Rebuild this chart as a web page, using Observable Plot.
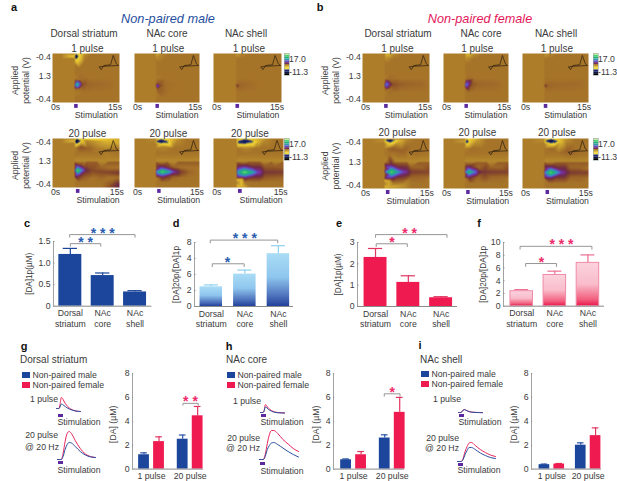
<!DOCTYPE html>
<html><head><meta charset="utf-8">
<script src="https://cdn.jsdelivr.net/npm/d3@7"></script>
<script src="https://cdn.jsdelivr.net/npm/@observablehq/plot@0.6"></script>
<style>
html,body{margin:0;padding:0;background:#fff}
#page{position:relative;width:617px;height:481px;overflow:hidden;font-family:"Liberation Sans",Arial,sans-serif;color:#3a3a3a}
#page svg{position:absolute;overflow:visible;background:transparent}
.t{position:absolute;white-space:nowrap;line-height:1;transform:translate(-50%,-50%)}
.l{transform:translate(0,-50%)}
.r{transform:translate(-100%,-50%)}
</style></head><body><div id="page"></div>
<script>
// ---------- data ----------
const regions = ["Dorsal\nstriatum","NAc\ncore","NAc\nshell"];
const da1pMale = [1.2,0.71,0.33], da1pMaleErr = [0.14,0.06,0.03];
const ratioMale = [2.46,4.05,6.6], ratioMaleErr = [0.24,0.5,1.0];
const da1pFemale = [2.3,1.13,0.41], da1pFemaleErr = [0.42,0.31,0.05];
const ratioFemale = [2.35,4.9,6.8], ratioFemaleErr = [0.25,0.6,1.25];
const gMeans = [1.2,2.3,2.5,4.46], gErrs = [0.16,0.4,0.35,0.78];
const hMeans = [0.78,1.2,2.6,4.75], hErrs = [0.07,0.27,0.27,1.25];
const iMeans = [0.37,0.42,2.0,2.8], iErrs = [0.05,0.05,0.2,0.65];
const groupPositions = [0,1,2.58,3.58];
const pulseLabels = ["1 pulse","20 pulse"];

const traceTime1 = [0,1.5,2.2,3,3.8,4.6,5.6,7,9,11,13,15];
const g1Male =   [0,0,1.5,4.5,4,3,1.8,.3,-1.2,-2.2,-2.8,-3];
const g1Female = [0,0,4,11,10,7.5,4.8,2,-.6,-2,-2.7,-3];
const h1Male =   [0,0,1.2,5.5,5.2,3.5,2.4,1.2,.2,-.3,-.5,-.6];
const h1Female = [0,0,1.5,7.8,7,5,3.4,1.8,.5,0,-.2,-.4];
const i1Male =   [0,0,.8,2.4,2.8,2.3,1.5,.7,.2,0,-.1,-.2];
const i1Female = [0,0,.9,2.6,3,2.4,1.6,.8,.3,.1,0,-.1];
const traceTime20 = [0,1.5,2.2,3,3.8,4.6,5.5,7,9,11,13,15];
const g20Male =   [0,0,3,10,15,17,16.5,13,8,4.5,2.6,2];
const g20Female = [0,0,6,18,26,28,26,19,11,5.5,3,2];
const h20Male =   [0,0,3,10,14,16.5,17,15,11.5,8,5,2.5];
const h20Female = [0,0,5,16,25,29,29,26,20,15.5,11,8];
const i20Male =   [0,0,2,7,11,14,14,12,8.5,6,4,3];
const i20Female = [0,0,3,10,15,18.5,19,16,12,9,6.5,5];

const colorLevels = [-14,-11.3,-8,-7,-5,-3,-1,0,2,3.5,5,7,9,11,13,15,17];
const colorRange  = ["#000000","#10154e","#202a88","#6a6a50","#f3dd36","#e2bc2e","#be9430","#ad7d2a","#8c4f27","#6d2a45","#7a2ea0","#5f50c8","#3a8fc0","#25a890","#1fbb60","#7fe08a","#d8f0a0"];
const colorbarSteps = [20,14,12,10,7,4,0,-3,-5,-9,-11,-14];
const colorbarLabels = ["17.0","-11.3"];

// background lattice of the colour plots (value of the quiet, brown field)
const latticeT = [0,2,4.9,5.05,6,7,8,9,10,11,12,13,14,15];
const latticeY = [0,.1,.2,.3,.4,.5,.6,.7,.8,.9,1];
const quietLeft = 0, quietRight = .4;
const band = [[5.05,.46,-.6],[5.05,.48,1.4],[7.5,.46,-.5],[7.5,.48,1.4],[10,.46,-.5],[10,.48,1.4],[12.5,.46,-.5],[12.5,.48,1.4],[15,.46,-.5],[15,.48,1.4]];
const waveT = [10.5,10.9,11.5,13,13.6,14.3,14.8,11.5,10.5];
const waveY = [.275,.33,.245,.23,.04,.21,.245,.26,.275];

const heatA1 = [[5.3,.06,-16],[5.3,0,-6],[5.3,.13,-5],[4.95,.06,-4],[5.9,.06,-5],[7.2,.02,-.5],
 [5.05,.63,10],[5.5,.63,13],[6.1,.63,8],[5.5,.57,8],[5.5,.69,8],[5.05,.54,.8],[5.05,.73,.8],[6.8,.63,2],[6.3,.55,.8],[6.3,.71,.8],[8,.63,1],[10,.63,.8],[12,.63,.7]];
const heatA2 = [[5.1,.02,-2.5],[6,0,-.6],[5.1,.08,-.6],[5.4,.66,7],[5.05,.66,5.5],[6,.66,2],[5.4,.6,1.5],[5.4,.73,1.5],[5.05,.58,.6],[5.05,.75,.6],[7,.66,.7],[9,.63,.5]];
const heatA3 = [[5.1,.02,-1.2],[6,0,-.3],[5.3,.66,3],[5.05,.66,2.5],[6,.66,1],[5.3,.6,.7],[5.3,.72,.7],[8,.65,.7]];
const heatA4 = [...band,[5.4,.05,-16],[5.4,0,-6],[5.4,.12,-5],[4.95,.05,-3],[6.6,.05,-4],[7.5,.03,-.6],[6.3,.17,2],[8,.2,1.2],[10,.2,0],[12,.05,-2.6],[15,.1,-2],[10,.05,-1.6],[13.5,.05,-2.6],[12,.25,.1],
 [5.7,.65,15],[5.1,.65,10],[6.6,.65,9],[5.6,.59,9],[5.6,.72,9],[5.05,.54,4],[5.05,.78,4],[7.5,.65,3.5],[6.2,.55,3],[6.2,.76,3],[7,.54,1],[7,.82,1],[9,.66,2.2],[11,.68,2.4],[13,.69,2.6],[15,.7,3],[11,.58,.8],[11,.82,.7],[14.6,.93,3.5],[13,.93,1.5]];
const heatA5 = [...band,[6.2,.06,-12],[5.2,.06,-9],[7.2,.06,-8.5],[6.2,.0,-5],[6.2,.11,-4.5],[4.95,.02,-.6],[8.5,.05,-3],[10,.03,-.6],[6.5,.17,-.4],
 [6.4,.68,15],[5.1,.68,10],[8,.68,11],[6.4,.63,9.5],[6.4,.73,9.5],[5.05,.58,3],[5.05,.77,3],[9.4,.68,5],[6.5,.57,3.5],[6.5,.79,3.5],[8,.6,3],[8,.76,3],[10.8,.68,2.6],[9,.57,.8],[9,.8,.8],[13,.68,.9]];
const heatA6 = [...band,[6.7,.06,-12],[5.4,.07,-9],[8,.05,-8.5],[6.7,.0,-5],[6.7,.13,-4.5],[5.05,.05,-3],[9.5,.05,-3],[11,.03,-.6],[7,.2,-.3],
 [6.6,.69,15.5],[5.1,.69,10],[8.5,.69,11],[6.6,.63,10],[6.6,.75,10],[5.05,.58,3.5],[5.05,.8,3.5],[9.8,.69,5.5],[6.6,.56,4],[6.6,.81,4],[8.5,.59,3.5],[8.5,.78,3.5],[11,.69,3],[13,.69,2.9],[15,.69,2.8],[11,.55,1.2],[11,.82,1.2],[13,.56,1.2],[13,.81,1.1],[15,.58,1.2],[15,.8,1],
 [5.1,.84,-3.4],[6,.84,-3.2],[5.1,.98,-3.4],[6,.98,-3.2],[6.7,.9,.2]];
const heatB1 = [[5.3,.02,-3],[7,0,-.6],[5.2,.08,-1],[5.4,.63,9],[5.05,.63,8],[6,.63,5],[5.4,.56,5],[5.4,.7,5],[5.05,.53,.8],[5.05,.74,.8],[6.9,.63,2],[6.2,.54,.8],[6.2,.72,.8],[9,.63,1.2],[11,.62,1],[13,.62,.9]];
const heatB2 = [[5.3,.02,-3],[7,0,-.8],[5.2,.08,-1],[5.3,.63,9],[5.05,.63,8],[5.9,.63,5],[5.3,.57,5],[5.3,.69,5],[5.05,.54,.8],[5.05,.72,.8],[6.6,.63,1.8],[8,.62,1],[10,.62,.9],[12,.62,.8]];
const heatB3 = [[5.2,.02,-1.2],[6,0,-.4],[5.3,.66,3],[5.05,.66,2.5],[6,.66,1],[5.3,.6,.7],[5.3,.72,.7],[8,.65,.8],[10.5,.64,.8],[13,.62,.7]];
const heatB4 = [...band,[6.2,.03,-13],[5.2,.04,-7],[7.2,.03,-7],[6.2,.1,-4.5],[4.95,.03,-1],[8.5,.03,-2.6],[10,.02,-.4],[6.5,.2,1.4],[9,.25,1.2],[12,.3,.6],
 [6.5,.67,15],[5.1,.67,9],[8,.67,10],[6.5,.61,10],[6.5,.73,10],[5.05,.54,4],[5.05,.8,4],[9.8,.67,5],[6.5,.53,4],[6.5,.8,4],[8,.58,3.5],[8,.76,3.5],[11,.67,2.8],[13,.67,2.6],[15,.67,2.4],[11,.57,1],[11,.78,1],[13,.58,1],[13,.77,1],
 [5.1,.84,-3.6],[5.8,.84,-2],[5.1,.98,-3.8],[5.8,.98,-2.4],[7,.9,.2],[9,.93,-.8]];
const heatB5 = [...band,[5.4,.06,-12],[5.4,0,-5],[5.4,.12,-4],[4.95,.06,-1.5],[6,.06,-4],[7.8,.04,-1.2],[6.5,.2,.6],
 [6,.67,13],[5.1,.67,9],[7.4,.67,8],[5.8,.61,8],[5.8,.73,8],[5.05,.57,3.5],[5.05,.77,3.5],[8,.67,4],[6,.56,3.5],[6,.78,3.5],[8,.58,1],[8,.77,1],[9.5,.67,3],[11,.67,2.8],[13,.67,2.7],[15,.67,2.6],[11,.57,.9],[11,.78,.9],[13,.58,.9],[13,.77,.9]];
const heatB6 = [...band,[6.5,.05,-13],[5.5,.05,-9],[7.5,.05,-9],[6.5,0,-5],[6.5,.11,-4.5],[4.95,.03,-1],[8.8,.05,-3],[10,.03,-.6],[7,.2,.8],[10,.25,1.3],[13,.3,.6],
 [6.4,.68,15],[5.1,.68,9],[8,.68,10],[6.4,.62,10],[6.4,.74,10],[5.05,.58,3.5],[5.05,.78,3.5],[9.2,.68,5],[6.4,.57,4],[6.4,.79,4],[8,.6,3.5],[8,.75,3.5],[11,.68,2.8],[13,.68,2.7],[15,.68,2.6],[11,.58,1],[11,.78,1],[13,.58,1],[13,.78,1]];

// ---------- helpers ----------
const page = document.getElementById("page");
const FONT = '"Liberation Sans",Arial,sans-serif', INK = "#3a3a3a", GREY = "#8a8a8a";
const colorScale = {type:"linear",domain:colorLevels,range:colorRange,clamp:true};
const BLUE="#1b469c", RED="#ee1a50", PURPLE="#5b2a9e";

function label(text,x,y,size,cls="",extra={}){
  const d=document.createElement("div");
  d.className="t "+cls; d.textContent=text;
  Object.assign(d.style,{left:x+"px",top:y+"px",fontSize:size+"px"},extra);
  page.appendChild(d);
}
function place(svg,left,top){svg.style.left=left+"px";svg.style.top=top+"px";page.appendChild(svg);}
function withField(features){
  // the quiet field shows wherever no estimated feature lies near
  const quiet=[];
  for(const t of latticeT) for(const y of latticeY){
    if(t<=4.9||!features.some(f=>Math.abs(f[0]-t)<1.6&&Math.abs(f[1]-y)<.08)) quiet.push([t,y,t<=4.9?quietLeft:quietRight]);
  }
  return [...quiet,...features];
}
function heat(features,x0,x1,y0,y1,title,opt={}){
  const mL=50,mR=4,mT=14,mB=20,shift=opt.shift||0;
  const marks=[
    Plot.raster(withField(features),{x:d=>d[0],y:d=>d[1],fill:d=>d[2],x1:0,x2:15,y1:0,y2:1,interpolate:"barycentric",pixelSize:.5}),
    Plot.line(waveT.map((t,i)=>({t,y:waveY[i]})),{x:"t",y:"y",stroke:"#2a1c10",strokeWidth:.7}),
    Plot.rect([0],{x1:[4.95+shift],x2:[5.75+shift],y1:[1.04],y2:[1.12],fill:PURPLE}),
    Plot.text([title],{x:[7.8],y:[-.105],fontSize:10,fill:INK}),
    Plot.text(["0s"],{x:[.7],y:[1.1],fontSize:8.7,fill:INK}),
    Plot.text(["15s"],{x:[14+shift],y:[1.09],fontSize:8.7,fill:INK}),
    Plot.text(["Stimulation"],{x:[9.8+shift],y:[1.26],fontSize:8.7,fill:INK})
  ];
  if(opt.yt){
    marks.push(Plot.text(["-0.4","1.3","-0.4"],{x:[-.35,-.35,-.35],y:[.08,.47,.94],textAnchor:"end",fontSize:8.7,fill:INK}));
    marks.push(Plot.text(["Applied"],{x:[-8.3],y:[.55],rotate:-90,fontSize:8.7,fill:INK}));
    marks.push(Plot.text(["potential (V)"],{x:[-5.8],y:[.55],rotate:-90,fontSize:8.7,fill:INK}));
  }
  place(Plot.plot({width:x1-x0+mL+mR,height:y1-y0+mT+mB,marginLeft:mL,marginRight:mR,marginTop:mT,marginBottom:mB,
    x:{domain:[0,15],axis:null},y:{domain:[1,0],axis:null},color:colorScale,
    style:{fontFamily:FONT,background:"transparent"},marks}),x0-mL,y0-mT);
}
function colorbar(x0,y0,y1){
  place(Plot.plot({width:34,height:y1-y0,marginLeft:0,marginRight:29,marginTop:0,marginBottom:0,
    x:{axis:null},y:{axis:null,domain:colorbarSteps,padding:0,round:false},color:colorScale,
    style:{fontFamily:FONT,background:"transparent"},
    marks:[Plot.cell(colorbarSteps,{y:d=>d,fill:d=>d}),Plot.frame({stroke:"#9aa",strokeWidth:.6})]}),x0,y0);
  label(colorbarLabels[0],x0+5,y0+6,8.7,"l");
  label(colorbarLabels[1],x0+5,y0+19,8.7,"l");
}
function gradient(id,stops){
  return ()=>{const d=d3.create("svg:defs");
    const g=d.append("linearGradient").attr("id",id).attr("x1",0).attr("x2",0).attr("y1",0).attr("y2",1);
    stops.forEach(([o,c])=>g.append("stop").attr("offset",o).attr("stop-color",c));
    return d.node();};
}
function bars(p){
  const mL=24,mR=6,mT=30,mB=30,w=p.x1-p.x0,h=p.yb-p.yt;
  const xs=p.xs,bw=p.bw/2;
  const rows=p.values.map((v,i)=>({x:xs[i],v,e:p.errs[i],fillC:p.fills[i],strokeC:p.strokes?p.strokes[i]:"none",err:p.errColors[i]}));
  const marks=[...(p.defs||[]),
    Plot.ruleX(rows,{x:"x",y1:"v",y2:d=>d.v+d.e,stroke:d=>d.err,strokeWidth:1.2}),
    Plot.ruleY(rows,{y:d=>d.v+d.e,x1:d=>d.x-bw*.62,x2:d=>d.x+bw*.62,stroke:d=>d.err,strokeWidth:1.2}),
    Plot.rectY(rows,{x1:d=>d.x-bw,x2:d=>d.x+bw,y1:0,y2:"v",fill:d=>d.fillC,stroke:d=>d.strokeC,strokeWidth:1}),
    Plot.ruleY([0],{x1:p.dom[0],x2:p.dom[1],stroke:GREY,strokeWidth:1}),
    Plot.ruleX([p.dom[0]],{y1:0,y2:p.ticks[p.ticks.length-1],stroke:GREY,strokeWidth:.8}),
    Plot.ruleY(p.ticks,{y:d=>d,x1:p.dom[0],x2:p.dom[0]+p.tickLen,stroke:GREY,strokeWidth:.7}),
    Plot.text(p.ticks,{x:p.dom[0],y:d=>d,text:(d,i)=>p.tickLabels[i],textAnchor:"end",dx:-3,fontSize:8.7,fill:INK}),
    Plot.text([p.yLabel],{frameAnchor:"left",textAnchor:"middle",rotate:-90,dx:p.yLabelDx,dy:p.yLabelDy||0,fontSize:p.yLabelSize||8.2,fill:INK}),
    Plot.text(p.cats,{x:p.catX,y:0,text:d=>d,lineAnchor:"top",dy:3,lineHeight:1.18,fontSize:8.7,fill:INK})
  ];
  (p.brackets||[]).forEach(b=>{
    marks.push(Plot.line([{x:b.a,y:b.y-b.drop},{x:b.a,y:b.y},{x:b.b,y:b.y},{x:b.b,y:b.y-b.drop}],{x:"x",y:"y",stroke:"#8a8a8a",strokeWidth:.9}));
    marks.push(Plot.text([b.s],{x:[b.sx],y:[b.y],dy:-1.5,fontSize:14,fontWeight:"bold",fill:p.starColor}));
  });
  place(Plot.plot({width:w+mL+mR,height:h+mT+mB,marginLeft:mL,marginRight:mR,marginTop:mT,marginBottom:mB,
    x:{domain:p.dom,axis:null},y:{domain:[0,p.ticks[p.ticks.length-1]],axis:null},
    style:{fontFamily:FONT,background:"transparent"},marks}),p.x0-mL,p.yt-mT);
}
function trace(t,m,f,x0,x1,yBase,pxPerUnit,yMin,yMax){
  const H=(yMax-yMin)*pxPerUnit;
  place(Plot.plot({width:x1-x0,height:H,margin:0,
    x:{domain:[0,15],axis:null},y:{domain:[yMin,yMax],axis:null},
    style:{background:"transparent"},marks:[
      Plot.line(t.map((x,i)=>({x,y:f[i]})),{x:"x",y:"y",stroke:"#e8245c",strokeWidth:1,curve:"monotone-x"}),
      Plot.line(t.map((x,i)=>({x,y:m[i]})),{x:"x",y:"y",stroke:"#2a4fa0",strokeWidth:1,curve:"monotone-x"})
    ]}),x0,yBase-yMax*pxPerUnit);
}
function swatch(x,y,w,h,c){
  place(Plot.plot({width:w,height:h,margin:0,x:{domain:[0,1],axis:null},y:{domain:[0,1],axis:null},
    style:{background:"transparent"},marks:[Plot.rect([0],{x1:0,x2:1,y1:0,y2:1,fill:c})]}),x,y);
}
function legend(x,y){
  [["Non-paired male",BLUE],["Non-paired female",RED]].forEach(([t,c],i)=>{
    swatch(x,y+i*10.3-3,8,6,c);
    label(t,x+10.5,y+i*10.3,8.7,"l");
  });
}

// ---------- panels a, b ----------
label("a",14,7,11,"",{fontWeight:"bold",color:"#111"});
label("b",320,7,11,"",{fontWeight:"bold",color:"#111"});
label("Non-paired male",168,19,12.7,"",{fontStyle:"italic",color:"#1f4e9e"});
label("Non-paired female",480,19,12.7,"",{fontStyle:"italic",color:"#e3175a"});
[["Dorsal striatum",84],["NAc core",167],["NAc shell",246],["Dorsal striatum",398],["NAc core",481],["NAc shell",556]]
 .forEach(([t,x])=>label(t,x,34,10));
heat(heatA1,52,119,53,102,"1 pulse",{yt:true});
heat(heatA2,134,199,53,102,"1 pulse");
heat(heatA3,213,281,53,102,"1 pulse");
heat(heatA4,52,119,138,187,"20 pulse",{yt:true,shift:.4});
heat(heatA5,134,199,138,187,"20 pulse",{shift:.4});
heat(heatA6,213,283,138,187,"20 pulse",{shift:.4});
heat(heatB1,362,429,53,102,"1 pulse",{yt:true});
heat(heatB2,443,508,53,102,"1 pulse");
heat(heatB3,522,588,53,102,"1 pulse");
heat(heatB4,362,429,138,188,"20 pulse",{yt:true,shift:.4});
heat(heatB5,443,508,138,188,"20 pulse",{shift:.4});
heat(heatB6,522,588,138,188,"20 pulse",{shift:.4});
colorbar(284,53,75);colorbar(284,138,160);colorbar(593,53,75);colorbar(593,138,160);

// ---------- panels c-f ----------
[["c",27,223],["d",176,223],["e",339,223],["f",479,223],["g",24,346],["h",229,346],["i",420,345]]
 .forEach(([t,x,y])=>label(t,x,y,11,"",{fontWeight:"bold",color:"#111"}));
const idx=[0,1,2];
bars({x0:52.6,x1:151,yt:241,yb:305.7,dom:[-.52,2.52],xs:idx,bw:.71,values:da1pMale,errs:da1pMaleErr,fills:[BLUE,BLUE,BLUE],errColors:[BLUE,BLUE,BLUE],
  ticks:[0,.5,1,1.5],tickLabels:["0","0.5","1.0","1.5"],tickLen:.05,yLabel:"[DA]1p(µM)",yLabelDx:-24.6,cats:regions,catX:idx,starColor:"#2a5cb0",
  brackets:[{a:0,b:.94,y:1.45,drop:.06,s:"* *",sx:.47},{a:-.02,b:2,y:1.66,drop:.06,s:"* * *",sx:1}]});
bars({x0:194,x1:293,yt:241.7,yb:305.7,dom:[-.5,2.45],xs:idx,bw:.67,values:ratioMale,errs:ratioMaleErr,fills:["url(#gd)","url(#gd)","url(#gd)"],errColors:["#8fd0ee","#8fd0ee","#8fd0ee"],
  ticks:[0,2,4,6,8],tickLabels:["0","2","6","4","8"],tickLen:.05,yLabel:"[DA]20p/[DA]1p",yLabelDx:-18,cats:regions,catX:idx,starColor:"#2a5cb0",
  defs:[gradient("gd",[[0,"#a9dcf5"],[.45,"#8fc6ee"],[.8,"#4f73bd"],[1,"#22419a"]])],
  brackets:[{a:.03,b:.98,y:5.34,drop:.35,s:"*",sx:.48},{a:-.03,b:1.98,y:8.3,drop:.35,s:"* * *",sx:1}]});
bars({x0:357,x1:457,yt:241.7,yb:305.7,dom:[-.55,2.5],xs:idx,bw:.7,values:da1pFemale,errs:da1pFemaleErr,fills:[RED,RED,RED],errColors:["#e2355f","#e2355f","#e2355f"],
  ticks:[0,1,2,3],tickLabels:["0","1","2","3"],tickLen:.05,yLabel:"[DA]1p(µM)",yLabelDx:-19,cats:regions,catX:idx,starColor:"#ee2a6a",
  brackets:[{a:.02,b:.97,y:2.94,drop:.13,s:"*",sx:.5},{a:0,b:2.18,y:3.37,drop:.13,s:"* *",sx:1.04}]});
bars({x0:502.7,x1:603.7,yt:242,yb:305.7,dom:[-.55,2.5],xs:idx,bw:.68,values:ratioFemale,errs:ratioFemaleErr,fills:["url(#gf)","url(#gf)","url(#gf)"],strokes:["#f08aa8","#f08aa8","#f08aa8"],errColors:["#ec6f92","#ec6f92","#ec6f92"],
  ticks:[0,2,4,6,8,10],tickLabels:["0","2","4","6","8","10"],tickLen:.05,yLabel:"[DA]20p/[DA]1p",yLabelDx:-20,cats:regions,catX:idx,starColor:"#ee2a6a",
  defs:[gradient("gf",[[0,"#fbd3dd"],[.5,"#f9bccb"],[.85,"#f2607f"],[1,"#e9184c"]])],
  brackets:[{a:.12,b:1.05,y:6.7,drop:.45,s:"*",sx:.6},{a:-.05,b:2.12,y:9.4,drop:.45,s:"* * *",sx:1.2}]});

// ---------- panels g-i ----------
const gp=groupPositions, cp=[.5,3.08];
const two=()=>[BLUE,RED,BLUE,RED];
bars({x0:132,x1:203,yt:372.7,yb:468.3,dom:[-.77,3.97],xs:gp,bw:.72,values:gMeans,errs:gErrs,fills:two(),errColors:["#2a55a8","#e2355f","#2a55a8","#e2355f"],
  ticks:[0,2,4,6,8],tickLabels:["0","2","4","6","8"],tickLen:.08,yLabel:"[DA] (µM)",yLabelDx:-19,yLabelDy:3,yLabelSize:8.7,cats:pulseLabels,catX:cp,starColor:"#ee2a6a",
  brackets:[{a:2.6,b:3.62,y:5.5,drop:.15,s:"* *",sx:3.1}]});
bars({x0:333,x1:404,yt:372.7,yb:468.3,dom:[-.84,3.9],xs:gp,bw:.72,values:hMeans,errs:hErrs,fills:two(),errColors:["#2a55a8","#e2355f","#2a55a8","#e2355f"],
  ticks:[0,2,4,6,8],tickLabels:["0","2","4","6","8"],tickLen:.08,yLabel:"[DA] (µM)",yLabelDx:-17,yLabelDy:3,yLabelSize:8.7,cats:pulseLabels,catX:cp,starColor:"#ee2a6a",
  brackets:[{a:2.55,b:3.6,y:6.3,drop:.2,s:"*",sx:3.08}]});
bars({x0:531,x1:601,yt:372.7,yb:468.3,dom:[-.87,3.85],xs:[0,1,2.45,3.45],bw:.72,values:iMeans,errs:iErrs,fills:two(),errColors:["#2a55a8","#e2355f","#2a55a8","#e2355f"],
  ticks:[0,2,4,6,8],tickLabels:["0","2","4","6","8"],tickLen:.08,yLabel:"[DA] (µM)",yLabelDx:-17,yLabelDy:3,yLabelSize:8.7,cats:pulseLabels,catX:[.5,2.95],starColor:"#ee2a6a"});

label("Dorsal striatum",20,360,10,"l");label("NAc core",226,360,10,"l");label("NAc shell",420,360,10,"l");
legend(22,375);legend(227,375);legend(421,374);

trace(traceTime1,g1Male,g1Female,56,80,408,1,-4,12);
trace(traceTime20,g20Male,g20Female,57,95,459,1,-2,30);
trace(traceTime1,h1Male,h1Female,260,284,412,1,-2,9);
trace(traceTime20,h20Male,h20Female,259,298,459,1,-2,30);
trace(traceTime1,i1Male,i1Female,458,482,412,1,-2,4);
trace(traceTime20,i20Male,i20Female,457,495,461,1,-2,20);
swatch(58,414,5,3,PURPLE);swatch(58,461,5,3,PURPLE);swatch(261,414,5,3,PURPLE);swatch(260,462,5,3,PURPLE);swatch(459,414,5,3,PURPLE);swatch(458,463,5,3,PURPLE);
[[79,422],[79,470],[282,422],[282,471],[480,422],[479,470]].forEach(([x,y])=>label("Stimulation",x,y,8.7));
[["1 pulse",58,399],["1 pulse",261,401],["1 pulse",461,399]].forEach(([t,x,y])=>label(t,x,y,8.7,"r"));
[["20 pulse",58,435],["@ 20 Hz",59,447],["20 pulse",260,438],["@ 20 Hz",260,448],["20 pulse",459,438],["@ 20 Hz",459,448]].forEach(([t,x,y])=>label(t,x,y,8.7,"r"));
</script></body></html>
